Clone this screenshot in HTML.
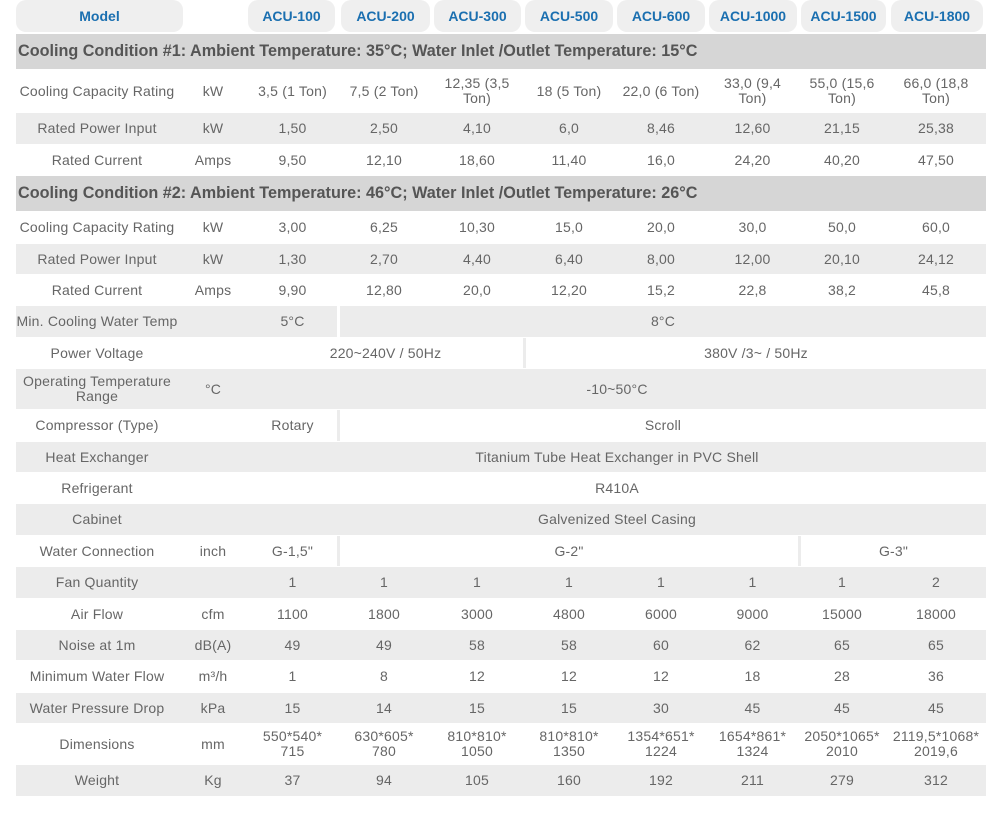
<!DOCTYPE html>
<html><head><meta charset="utf-8">
<style>
body{margin:0;background:#fff;width:992px;height:816px;position:relative;overflow:hidden;font-family:"Liberation Sans",sans-serif;}
.c{position:absolute;display:flex;align-items:center;justify-content:center;text-align:center;color:#666;font-size:14px;letter-spacing:0.2px;line-height:15px;box-sizing:border-box;}
.pill{position:absolute;top:0;height:32px;background:#efefef;border-radius:10px;color:#1a6fb0;font-weight:bold;font-size:14px;display:flex;align-items:center;justify-content:center;}
.sec{position:absolute;left:16px;width:970px;background:#d6d6d6;color:#555;font-weight:bold;font-size:16.2px;display:flex;align-items:center;padding-left:2px;box-sizing:border-box;}
.row{position:absolute;left:16px;width:970px;}
</style></head><body>
<div id="root"></div>
<script>
const models=["ACU-100","ACU-200","ACU-300","ACU-500","ACU-600","ACU-1000","ACU-1500","ACU-1800"];
const bounds=[16,178,248,337,431,523,615,707,798,886,986];
const pillX=[[248,335],[341,430],[434,521],[525,613],[617,705],[709,797],[801,886],[891,983]];
const root=document.getElementById('root');
function add(cls,x,y,w,h,html,name,bg,bl){
  const d=document.createElement('div');
  d.className=cls;
  d.style.left=x+'px';d.style.top=y+'px';d.style.width=w+'px';d.style.height=h+'px';
  if(bg)d.style.background=bg;
  if(bl)d.style.borderLeft='3px solid '+bl;
  d.innerHTML=html;
  
  
  root.appendChild(d);return d;
}
add('pill',16,0,167,32,'Model','model-header');
models.forEach((m,i)=>{add('pill',pillX[i][0],0,pillX[i][1]-pillX[i][0],32,m,'header-'+m.toLowerCase());});
const full=(lab,unit,vals)=>[[0,0,lab],[1,1,unit]].concat(vals.map((v,i)=>[i+2,i+2,v]));
const rows=[
 ['sec',34,69,'Cooling Condition #1: Ambient Temperature: 35°C; Water Inlet /Outlet Temperature: 15°C'],
 [70,112,0,full('Cooling Capacity Rating','kW',['3,5 (1 Ton)','7,5 (2 Ton)','12,35 (3,5<br>Ton)','18 (5 Ton)','22,0 (6 Ton)','33,0 (9,4<br>Ton)','55,0 (15,6<br>Ton)','66,0 (18,8<br>Ton)'])],
 [113,144,1,full('Rated Power Input','kW',['1,50','2,50','4,10','6,0','8,46','12,60','21,15','25,38'])],
 [145,175,0,full('Rated Current','Amps',['9,50','12,10','18,60','11,40','16,0','24,20','40,20','47,50'])],
 ['sec',176,211,'Cooling Condition #2: Ambient Temperature: 46°C; Water Inlet /Outlet Temperature: 26°C'],
 [212,243,0,full('Cooling Capacity Rating','kW',['3,00','6,25','10,30','15,0','20,0','30,0','50,0','60,0'])],
 [244,274,1,full('Rated Power Input','kW',['1,30','2,70','4,40','6,40','8,00','12,00','20,10','24,12'])],
 [275,305,0,full('Rated Current','Amps',['9,90','12,80','20,0','12,20','15,2','22,8','38,2','45,8'])],
 [306,337,1,[[0,0,'Min. Cooling Water Temp'],[2,2,'5°C'],[3,9,'8°C']]],
 [338,368,0,[[0,0,'Power Voltage'],[2,4,'220~240V / 50Hz'],[5,9,'380V /3~ / 50Hz']]],
 [369,409,1,[[0,0,'Operating Temperature<br>Range'],[1,1,'°C'],[2,9,'-10~50°C']]],
 [410,441,0,[[0,0,'Compressor (Type)'],[2,2,'Rotary'],[3,9,'Scroll']]],
 [442,472,1,[[0,0,'Heat Exchanger'],[2,9,'Titanium Tube Heat Exchanger in PVC Shell']]],
 [473,503,0,[[0,0,'Refrigerant'],[2,9,'R410A']]],
 [504,535,1,[[0,0,'Cabinet'],[2,9,'Galvenized Steel Casing']]],
 [536,566,0,[[0,0,'Water Connection'],[1,1,'inch'],[2,2,'G-1,5"'],[3,7,'G-2"'],[8,9,'G-3"']]],
 [567,598,1,full('Fan Quantity','',['1','1','1','1','1','1','1','2'])],
 [599,629,0,full('Air Flow','cfm',['1100','1800','3000','4800','6000','9000','15000','18000'])],
 [630,660,1,full('Noise at 1m','dB(A)',['49','49','58','58','60','62','65','65'])],
 [661,692,0,full('Minimum Water Flow','m³/h',['1','8','12','12','12','18','28','36'])],
 [693,723,1,full('Water Pressure Drop','kPa',['15','14','15','15','30','45','45','45'])],
 [724,764,0,full('Dimensions','mm',['550*540*<br>715','630*605*<br>780','810*810*<br>1050','810*810*<br>1350','1354*651*<br>1224','1654*861*<br>1324','2050*1065*<br>2010','2119,5*1068*<br>2019,6'])],
 [765,796,1,full('Weight','Kg',['37','94','105','160','192','211','279','312'])]
];
const spanRows=[306,338,410,536];
rows.forEach((r,ri)=>{
  if(r[0]==='sec'){add('sec',16,r[1],970,r[2]-r[1],r[3],'section-header-'+ri);return;}
  const [y0,y1,g,cells]=r;const h=y1-y0;
  add('row',16,y0,970,h,'','row-'+ri,g?'#ececec':'#fff');
  const sp=spanRows.includes(y0);
  cells.forEach(([a,b,t])=>{
    const x=bounds[a],w=bounds[b+1]-x;
    const bl=(sp&&a>=3)?(g?'#fff':'#ececec'):null;
    add('c',x,y0,w,h,t,'cell-r'+ri+'-c'+a,null,bl);
  });
});
</script>
</body></html>
